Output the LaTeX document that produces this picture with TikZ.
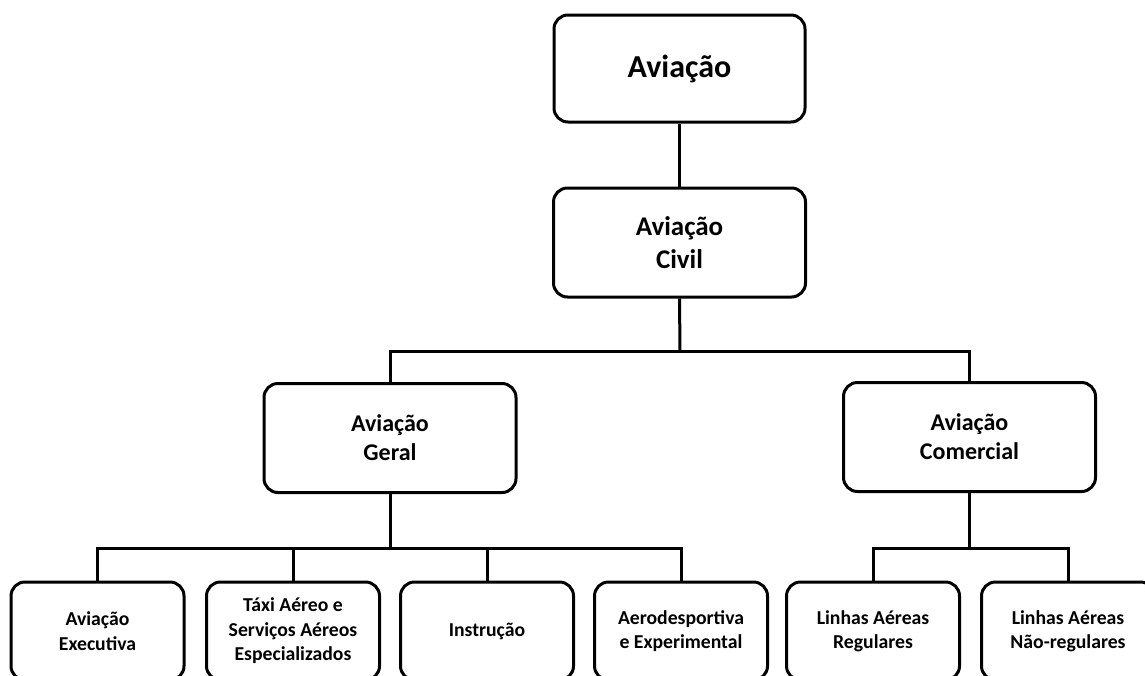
\documentclass[tikz,border=0pt]{standalone}
\usepackage{fontspec}
\setmainfont{Carlito}
\begin{document}
\begin{tikzpicture}[x=1pt,y=-1pt,
  box/.style={draw=black, line width=3pt, rounded corners=14pt, fill=white,
    align=center, inner sep=0pt},
  topbox/.style={box, minimum width=251pt, minimum height=107pt,
    font=\bfseries\fontsize{32}{38}\selectfont},
  midbox/.style={box, minimum width=252pt, minimum height=109pt,
    font=\bfseries\fontsize{27}{33}\selectfont},
  subbox/.style={box, minimum width=252pt, minimum height=109pt,
    font=\bfseries\fontsize{24}{29}\selectfont},
  leafbox/.style={box, minimum width=173pt, minimum height=98pt,
    font=\bfseries\fontsize{19.7}{24.5}\selectfont},
  wire/.style={draw=black, line width=3pt}]
\useasboundingbox (0,0) rectangle (1145,675);
\begin{scope}
\clip (0,0) rectangle (1145,675);

% hierarchy boxes
\node[topbox] (aviacao) at (679.5,68.5) {Aviação};
\node[midbox] (civil) at (679.5,242.5) {Aviação\\Civil};
\node[subbox] (geral) at (390,438) {Aviação\\Geral};
\node[subbox] (comercial) at (969.5,437) {Aviação\\Comercial};

% leaves
\node[leafbox] (executiva) at (97.5,631) {Aviação\\Executiva};
\node[leafbox] (taxi) at (293,631) {Táxi Aéreo e\\Serviços Aéreos\\Especializados};
\node[leafbox] (instrucao) at (487,631) {Instrução};
\node[leafbox] (aerodesp) at (681,631) {Aerodesportiva\\e Experimental};
\node[leafbox] (regulares) at (873,631) {Linhas Aéreas\\Regulares};
\node[leafbox] (naoreg) at (1068,631) {Linhas Aéreas\\Não-regulares};

% bus junctions
\coordinate (civbus) at (680,351);
\coordinate (gerbus) at (390,548);
\coordinate (combus) at (969.5,548);

% connectors
\draw[wire] (aviacao.south) -- (civil.north);
\draw[wire] (civil.south) -- (civbus);
\draw[wire] (geral.north) |- (civbus) -| (comercial.north);

\draw[wire] (geral.south) -- (gerbus);
\draw[wire] (executiva.north) |- (gerbus) -| (aerodesp.north);
\draw[wire] (taxi.north) -- (taxi.north |- gerbus);
\draw[wire] (instrucao.north) -- (instrucao.north |- gerbus);

\draw[wire] (comercial.south) -- (combus);
\draw[wire] (regulares.north) |- (combus) -| (naoreg.north);
\end{scope}
\end{tikzpicture}
\end{document}
